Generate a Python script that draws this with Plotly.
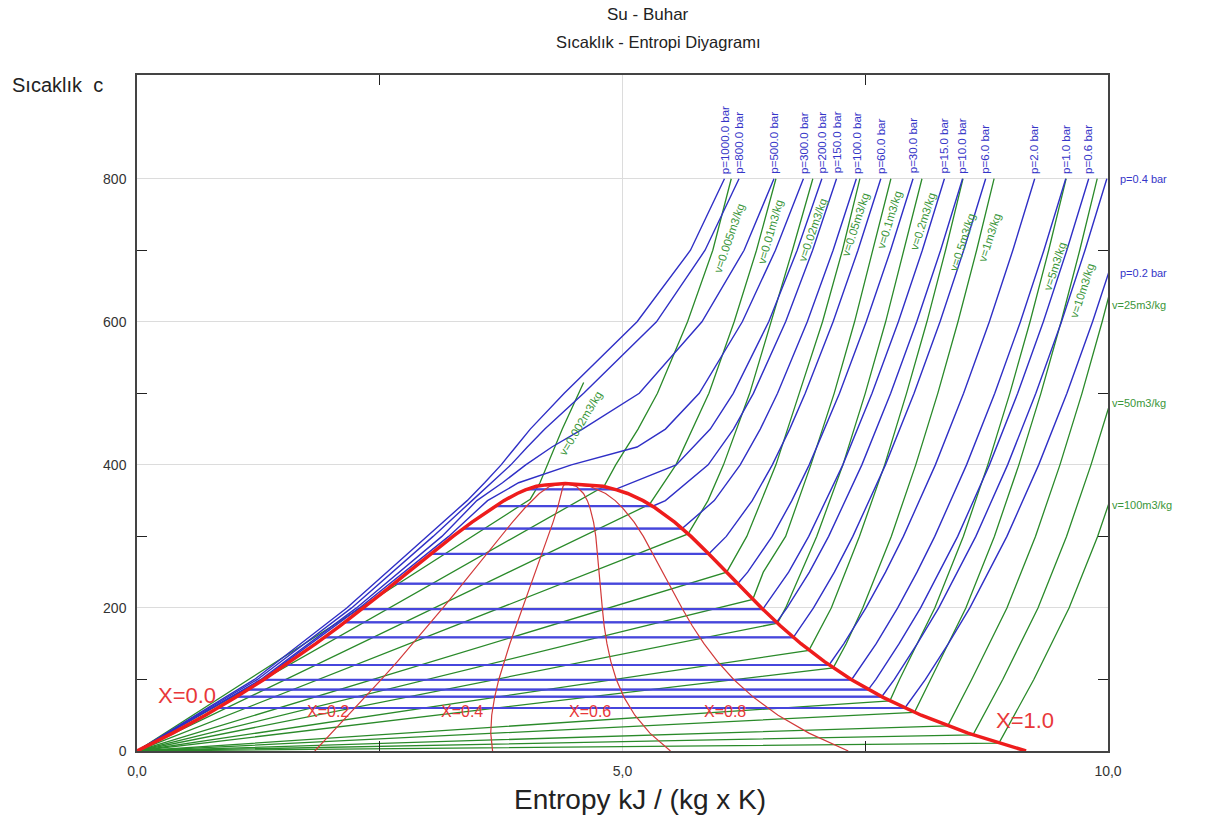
import plotly.graph_objects as go

# ---------------- saturation dome ----------------
T_SAT = [0, 25, 50, 75, 100, 125, 150, 175, 200, 225, 250, 275, 300, 320, 340, 350, 360, 365, 370, 372, 374]
S_LIQ = [0.0, 0.367, 0.704, 1.016, 1.307, 1.581, 1.842, 2.091, 2.331, 2.564, 2.793, 3.020, 3.254, 3.450, 3.661, 3.778, 3.916, 4.00, 4.113, 4.21, 4.41]
S_VAP = [9.156, 8.558, 8.076, 7.683, 7.355, 7.080, 6.838, 6.625, 6.432, 6.250, 6.073, 5.892, 5.705, 5.537, 5.335, 5.212, 5.053, 4.94, 4.800, 4.67, 4.41]

# ---------------- quality lines ----------------
T_QUAL = [0, 25, 50, 75, 100, 125, 150, 175, 200, 225, 250, 275, 300, 320, 340, 350, 360, 370, 374]
S_X02 = [1.831, 2.005, 2.178, 2.349, 2.517, 2.681, 2.841, 2.998, 3.151, 3.301, 3.449, 3.594, 3.744, 3.867, 3.996, 4.065, 4.143, 4.250, 4.41]
S_X04 = [3.662, 3.643, 3.653, 3.683, 3.726, 3.781, 3.840, 3.905, 3.971, 4.038, 4.105, 4.169, 4.234, 4.285, 4.331, 4.352, 4.371, 4.388, 4.41]
S_X06 = [5.494, 5.282, 5.127, 5.016, 4.936, 4.880, 4.840, 4.811, 4.792, 4.776, 4.761, 4.743, 4.725, 4.702, 4.665, 4.638, 4.598, 4.525, 4.41]
S_X08 = [7.325, 6.920, 6.602, 6.350, 6.145, 5.980, 5.839, 5.718, 5.612, 5.513, 5.417, 5.318, 5.215, 5.120, 5.000, 4.925, 4.826, 4.663, 4.41]
QUAL_LABELS = ["X=0.0", "X=0.2", "X=0.4", "X=0.6", "X=0.8", "X=1.0"]

# ---------------- supercritical isobars ----------------
T_SUPER = [0, 100, 200, 300, 350, 375, 400, 425, 450, 500, 600, 700, 800]
S_P1000 = [0.0, 1.21, 2.16, 2.99, 3.40, 3.58, 3.75, 3.90, 4.05, 4.40, 5.15, 5.70, 6.05]
S_P800 = [0.0, 1.24, 2.21, 3.05, 3.45, 3.65, 3.85, 4.02, 4.20, 4.60, 5.35, 5.85, 6.20]
S_P500 = [0.0, 1.275, 2.26, 3.14, 3.50, 3.764, 4.003, 4.273, 4.588, 5.173, 5.818, 6.252, 6.56]
S_P300 = [0.0, 1.29, 2.29, 3.21, 3.61, 3.93, 4.473, 5.150, 5.442, 5.790, 6.234, 6.575, 6.863]

# ---------------- subcritical isobars: (Tsat, s_f, s_g) + superheated ----------------
P200_SAT = [365.8, 4.015, 4.927]
P200_T = [400, 450, 500, 600, 700, 800]
P200_S = [5.553, 5.904, 6.141, 6.506, 6.799, 7.053]
P150_SAT = [342.2, 3.684, 5.310]
P150_T = [350, 400, 450, 500, 600, 700, 800]
P150_S = [5.442, 5.882, 6.143, 6.348, 6.680, 6.958, 7.204]
P100_SAT = [311.0, 3.360, 5.614]
P100_T = [350, 400, 450, 500, 600, 700, 800]
P100_S = [5.945, 6.212, 6.419, 6.597, 6.903, 7.169, 7.408]
P60_SAT = [275.6, 3.027, 5.890]
P60_T = [300, 350, 400, 450, 500, 600, 700, 800]
P60_S = [6.069, 6.336, 6.543, 6.722, 6.882, 7.169, 7.425, 7.660]
P30_SAT = [233.9, 2.645, 6.186]
P30_T = [250, 300, 350, 400, 500, 600, 700, 800]
P30_S = [6.289, 6.541, 6.744, 6.923, 7.235, 7.510, 7.761, 7.992]
P15_SAT = [198.3, 2.315, 6.445]
P15_T = [250, 300, 400, 500, 600, 700, 800]
P15_S = [6.711, 6.918, 7.269, 7.570, 7.841, 8.088, 8.315]
P10_SAT = [179.9, 2.138, 6.586]
P10_T = [200, 250, 300, 400, 500, 600, 700, 800]
P10_S = [6.694, 6.925, 7.123, 7.465, 7.762, 8.030, 8.276, 8.502]
P6_SAT = [158.8, 1.931, 6.760]
P6_T = [200, 250, 300, 400, 500, 600, 700, 800]
P6_S = [6.967, 7.182, 7.372, 7.708, 8.003, 8.270, 8.514, 8.740]
P2_SAT = [120.2, 1.530, 7.127]
P2_T = [150, 200, 250, 300, 400, 500, 600, 700, 800]
P2_S = [7.280, 7.507, 7.709, 7.893, 8.222, 8.513, 8.778, 9.020, 9.245]
P1_SAT = [99.6, 1.303, 7.359]
P1_T = [150, 200, 250, 300, 400, 500, 600, 700, 800]
P1_S = [7.613, 7.834, 8.033, 8.216, 8.543, 8.834, 9.098, 9.340, 9.565]
P06_SAT = [85.9, 1.145, 7.531]
P06_T = [100, 150, 200, 300, 400, 500, 600, 700, 800]
P06_S = [7.61, 7.849, 8.070, 8.452, 8.779, 9.070, 9.334, 9.576, 9.801]
P04_SAT = [75.9, 1.026, 7.670]
P04_T = [100, 150, 200, 300, 400, 500, 600, 700, 800]
P04_S = [7.80, 8.036, 8.257, 8.639, 8.966, 9.257, 9.521, 9.763, 9.988]
P02_SAT = [60.1, 0.832, 7.908]
P02_T = [100, 150, 200, 300, 400, 500, 600, 700]
P02_S = [8.12, 8.356, 8.577, 8.959, 9.286, 9.577, 9.841, 10.083]

TOP_P_LABELS = ["p=1000.0 bar", "p=800.0 bar", "p=500.0 bar", "p=300.0 bar", "p=200.0 bar",
                "p=150.0 bar", "p=100.0 bar", "p=60.0 bar", "p=30.0 bar", "p=15.0 bar",
                "p=10.0 bar", "p=6.0 bar", "p=2.0 bar", "p=1.0 bar", "p=0.6 bar"]
SIDE_P_LABELS = ["p=0.4 bar", "p=0.2 bar"]
SIDE_P_T = [800, 668]

# ---------------- isochores (origin -> sat. vapour -> superheated) ----------------
V0002_S = [0.0, 4.05, 4.15, 4.38, 4.60]
V0002_T = [0, 352, 375, 450, 515]
V0005_S = [0.0, 4.81, 4.93, 5.16, 5.36, 5.67, 5.93, 6.12]
V0005_T = [0, 370, 400, 450, 500, 600, 700, 800]
V001_S = [0.0, 5.28, 5.55, 5.89, 6.15, 6.38, 6.58]
V001_T = [0, 345, 400, 500, 600, 700, 800]
V002_S = [0.0, 5.676, 5.88, 6.04, 6.31, 6.53, 6.75, 6.96]
V002_T = [0, 303.5, 350, 400, 500, 600, 700, 800]
V005_S = [0.0, 6.073, 6.28, 6.58, 6.82, 7.06, 7.265, 7.445]
V005_T = [0, 250, 300, 400, 500, 600, 700, 800]
V01_S = [0.0, 6.342, 6.45, 6.68, 6.94, 7.18, 7.39, 7.58, 7.764]
V01_T = [0, 212, 250, 300, 400, 500, 600, 700, 800]
V02_S = [0.0, 6.596, 6.68, 7.00, 7.27, 7.50, 7.71, 7.90, 8.084]
V02_T = [0, 178.7, 200, 300, 400, 500, 600, 700, 800]
V05_S = [0.0, 6.92, 7.15, 7.44, 7.70, 7.925, 8.135, 8.327, 8.507]
V05_T = [0, 140.7, 200, 300, 400, 500, 600, 700, 800]
V1_S = [0.0, 7.17, 7.304, 7.474, 7.768, 8.020, 8.247, 8.455, 8.647, 8.827]
V1_T = [0, 116.3, 150, 200, 300, 400, 500, 600, 700, 800]
V5_S = [0.0, 7.754, 7.853, 8.216, 8.510, 8.762, 8.989, 9.197, 9.389, 9.569]
V5_T = [0, 70.2, 100, 200, 300, 400, 500, 600, 700, 800]
V10_S = [0.0, 8.007, 8.173, 8.536, 8.830, 9.082, 9.309, 9.517, 9.709, 9.889]
V10_T = [0, 54.1, 100, 200, 300, 400, 500, 600, 700, 800]
V25_S = [0.0, 8.35, 8.596, 8.959, 9.253, 9.505, 9.732, 9.940, 10.132]
V25_T = [0, 35.2, 100, 200, 300, 400, 500, 600, 700]
V50_S = [0.0, 8.61, 8.916, 9.279, 9.573, 9.825, 10.052]
V50_T = [0, 22.6, 100, 200, 300, 400, 500]
V100_S = [0.0, 8.877, 9.236, 9.599, 9.893, 10.145]
V100_T = [0, 11, 100, 200, 300, 400]

IN_V_LABELS = ["v=0.002m3/kg", "v=0.005m3/kg", "v=0.01m3/kg", "v=0.02m3/kg", "v=0.05m3/kg",
               "v=0.1m3/kg", "v=0.2m3/kg", "v=0.5m3/kg", "v=1m3/kg", "v=5m3/kg", "v=10m3/kg"]
SIDE_V_LABELS = ["v=25m3/kg", "v=50m3/kg", "v=100m3/kg"]
SIDE_V_T = [624, 487, 344]

X_TICKS = [0, 5, 10]
X_TICKTEXT = ["0,0", "5,0", "10,0"]
X_MINOR = [2.5, 7.5]
Y_TICKS = [0, 200, 400, 600, 800]
Y_MINOR = [100, 300, 500, 700]

BLUE = "#2f2fc6"
HBLUE = "#4646dc"
GREEN = "#2a8a2a"
RED = "#ee1c1c"
QRED = "#d23a3a"

fig = go.Figure()


def line(xs, ys, color, width):
    fig.add_trace(go.Scatter(x=xs, y=ys, mode="lines", line=dict(color=color, width=width),
                             hoverinfo="skip", showlegend=False))


# isochores (green)
for s_list, t_list in [(V0002_S, V0002_T), (V0005_S, V0005_T), (V001_S, V001_T), (V002_S, V002_T),
                       (V005_S, V005_T), (V01_S, V01_T), (V02_S, V02_T), (V05_S, V05_T),
                       (V1_S, V1_T), (V5_S, V5_T), (V10_S, V10_T), (V25_S, V25_T),
                       (V50_S, V50_T), (V100_S, V100_T)]:
    line(s_list, t_list, GREEN, 1.3)

# supercritical isobars
for s_list in [S_P1000, S_P800, S_P500, S_P300]:
    line(s_list, T_SUPER, BLUE, 1.4)

# subcritical isobars
subcrit = [(P200_SAT, P200_S, P200_T), (P150_SAT, P150_S, P150_T), (P100_SAT, P100_S, P100_T),
           (P60_SAT, P60_S, P60_T), (P30_SAT, P30_S, P30_T), (P15_SAT, P15_S, P15_T),
           (P10_SAT, P10_S, P10_T), (P6_SAT, P6_S, P6_T), (P2_SAT, P2_S, P2_T),
           (P1_SAT, P1_S, P1_T), (P06_SAT, P06_S, P06_T), (P04_SAT, P04_S, P04_T),
           (P02_SAT, P02_S, P02_T)]
for sat, s_sh, t_sh in subcrit:
    tsat, sf, sg = sat
    xs = [s for s, t in zip(S_LIQ, T_SAT) if t < tsat] + [sf, sg] + s_sh
    ys = [t for t in T_SAT if t < tsat] + [tsat, tsat] + t_sh
    line(xs, ys, BLUE, 1.4)
    line([sf, sg], [tsat, tsat], HBLUE, 2.2)

# quality lines
for s_list in [S_X02, S_X04, S_X06, S_X08]:
    line(s_list, T_QUAL, QRED, 1.2)

# saturation dome
line(S_LIQ + S_VAP[::-1], T_SAT + T_SAT[::-1], RED, 3.5)

# invisible trace on mirror axes (carries the top/right tick marks)
fig.add_trace(go.Scatter(x=[0, 10], y=[0, 945], xaxis="x2", yaxis="y2", mode="markers",
                         marker=dict(opacity=0), hoverinfo="skip", showlegend=False))

ann = []
ann.append(dict(text="Su - Buhar", x=0.526, y=1.089, xref="paper", yref="paper", showarrow=False,
                yanchor="middle", font=dict(size=17, color="#222")))
ann.append(dict(text="Sıcaklık - Entropi Diyagramı", x=0.537, y=1.049, xref="paper", yref="paper",
                yanchor="middle", showarrow=False, font=dict(size=16.5, color="#222")))
ann.append(dict(text="Sıcaklık  c", x=-0.131, y=0.985, xref="paper", yref="paper", xanchor="left",
                yanchor="middle", showarrow=False, font=dict(size=20, color="#222")))
ann.append(dict(text="Entropy kJ / (kg x K)", x=0.518, y=-0.072, xref="paper", yref="paper",
                yanchor="middle", showarrow=False, font=dict(size=28, color="#222")))

top_ends = [S_P1000[-1], S_P800[-1], S_P500[-1], S_P300[-1], P200_S[-1], P150_S[-1], P100_S[-1],
            P60_S[-1], P30_S[-1], P15_S[-1], P10_S[-1], P6_S[-1], P2_S[-1], P1_S[-1], P06_S[-1]]
for lab, xe in zip(TOP_P_LABELS, top_ends):
    ann.append(dict(text=lab, x=xe, y=800, xref="x", yref="y", textangle=-90, yanchor="bottom",
                    xanchor="center", yshift=3, showarrow=False, font=dict(size=11.5, color="#3535c8")))
for lab, t in zip(SIDE_P_LABELS, SIDE_P_T):
    ann.append(dict(text=lab, x=1.0, y=t, xref="paper", yref="y", xanchor="left", yanchor="middle",
                    xshift=10, showarrow=False, font=dict(size=11, color="#3535c8")))
for lab, t in zip(SIDE_V_LABELS, SIDE_V_T):
    ann.append(dict(text=lab, x=1.0, y=t, xref="paper", yref="y", xanchor="left", yanchor="middle",
                    xshift=2, showarrow=False, font=dict(size=11, color="#3a963a")))

v_pos = [(4.57, 459, -59), (6.10, 717, -71), (6.52, 726, -74), (6.96, 728, -71), (7.40, 735, -72),
         (7.75, 742, -73), (8.09, 740, -72), (8.50, 712, -72), (8.78, 717, -72), (9.45, 677, -72),
         (9.74, 644, -72)]
for lab, (xp, yp, ang) in zip(IN_V_LABELS, v_pos):
    ann.append(dict(text=lab, x=xp, y=yp, xref="x", yref="y", textangle=ang, showarrow=False,
                    font=dict(size=11.5, color="#3a963a")))

q_pos = [(0.515, 78, 22), (1.97, 55, 16), (3.35, 55, 16), (4.67, 55, 16), (6.06, 55, 16), (9.15, 43, 22)]
for lab, (xp, yp, sz) in zip(QUAL_LABELS, q_pos):
    ann.append(dict(text=lab, x=xp, y=yp, xref="x", yref="y", showarrow=False, yanchor="middle",
                    font=dict(size=sz, color="#e8383a")))

fig.update_layout(
    width=1210, height=823,
    margin=dict(l=137, r=102, t=75, b=72),
    paper_bgcolor="white", plot_bgcolor="white",
    font=dict(family="Liberation Sans, Arial, sans-serif", color="#333"),
    annotations=ann,
    xaxis=dict(range=[0, 10], tickvals=X_TICKS, ticktext=X_TICKTEXT, ticks="",
               showgrid=True, gridcolor="#dcdcdc", gridwidth=1, showline=True, linecolor="#444",
               linewidth=1.5, mirror=True, zeroline=False, tickfont=dict(size=14, color="#333"),
               ticklabelstandoff=6,
               minor=dict(tickmode="array", tickvals=X_MINOR, ticks="inside", ticklen=10,
                          tickcolor="#222", showgrid=False)),
    yaxis=dict(range=[0, 945], tickvals=Y_TICKS, ticks="",
               showgrid=True, gridcolor="#dcdcdc", gridwidth=1, showline=True, linecolor="#444",
               linewidth=1.5, mirror=True, zeroline=False, tickfont=dict(size=14, color="#333"),
               ticklabelstandoff=6,
               minor=dict(tickmode="array", tickvals=Y_MINOR, ticks="inside", ticklen=10,
                          tickcolor="#222", showgrid=False)),
    xaxis2=dict(range=[0, 10], overlaying="x", side="top", tickmode="array", tickvals=X_MINOR,
                ticks="inside", ticklen=10, tickcolor="#222", showticklabels=False,
                showgrid=False, zeroline=False, showline=False),
    yaxis2=dict(range=[0, 945], overlaying="y", side="right", tickmode="array", tickvals=Y_MINOR,
                ticks="inside", ticklen=10, tickcolor="#222", showticklabels=False,
                showgrid=False, zeroline=False, showline=False),
)

fig.write_html("out.html")
